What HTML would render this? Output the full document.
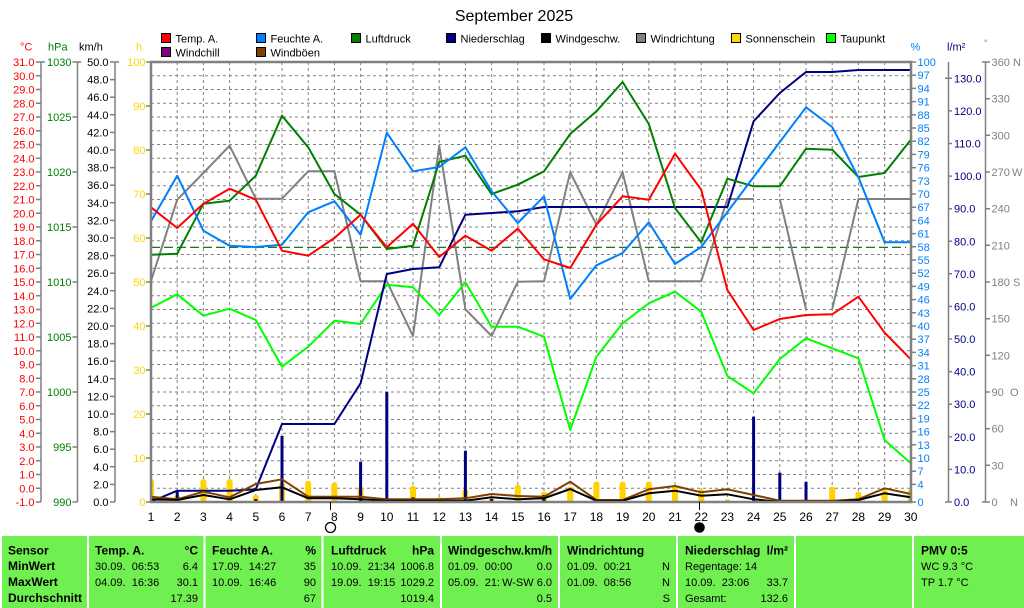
<!DOCTYPE html>
<html><head><meta charset="utf-8">
<style>
html,body{margin:0;padding:0;background:#fff;width:1024px;height:608px;overflow:hidden}
svg{display:block}
text{font-family:"Liberation Sans",Arial,sans-serif;white-space:pre}
</style></head><body>
<svg width="1024" height="608" viewBox="0 0 1024 608" xmlns="http://www.w3.org/2000/svg" xml:space="preserve">
<defs><clipPath id="pc"><rect x="151" y="62" width="760" height="440"/></clipPath></defs>
<rect width="1024" height="608" fill="#fff"/>

<!-- Title -->
<text x="514" y="21" font-size="16" text-anchor="middle">September 2025</text>

<!-- Legend -->
<g stroke="#000" stroke-width="1">
<rect x="161.5" y="33.5" width="9" height="9" fill="#FF0000"/>
<rect x="256.5" y="33.5" width="9" height="9" fill="#0080FF"/>
<rect x="351.5" y="33.5" width="9" height="9" fill="#008000"/>
<rect x="446.5" y="33.5" width="9" height="9" fill="#000080"/>
<rect x="541.5" y="33.5" width="9" height="9" fill="#000000"/>
<rect x="636.5" y="33.5" width="9" height="9" fill="#808080"/>
<rect x="731.5" y="33.5" width="9" height="9" fill="#FFD700"/>
<rect x="826.5" y="33.5" width="9" height="9" fill="#00FF00"/>
<rect x="161.5" y="47.5" width="9" height="9" fill="#800080"/>
<rect x="256.5" y="47.5" width="9" height="9" fill="#804000"/>
</g>
<g font-size="11" fill="#000">
<text x="175.5" y="42.5">Temp. A.</text>
<text x="270.5" y="42.5">Feuchte A.</text>
<text x="365.5" y="42.5">Luftdruck</text>
<text x="460.5" y="42.5">Niederschlag</text>
<text x="555.5" y="42.5">Windgeschw.</text>
<text x="650.5" y="42.5">Windrichtung</text>
<text x="745.5" y="42.5">Sonnenschein</text>
<text x="840.5" y="42.5">Taupunkt</text>
<text x="175.5" y="56.5">Windchill</text>
<text x="270.5" y="56.5">Windböen</text>
</g>

<!-- Axis headers -->
<g font-size="11">
<text x="20" y="50.5" fill="#FF0000">°C</text>
<text x="48" y="50.5" fill="#008000">hPa</text>
<text x="79" y="50.5" fill="#000">km/h</text>
<text x="136" y="50.5" fill="#FFD700">h</text>
<text x="910.5" y="50.5" fill="#0080FF">%</text>
<text x="947" y="50.5" fill="#000080">l/m²</text>
<text x="984" y="46" fill="#808080" font-size="9">°</text>
</g>

<!-- Left axis lines & ticks -->
<g stroke="#808080" stroke-width="1.5" fill="none">
<path d="M41 62V502M77.5 62V502M115 62V502M948.5 62V502M985.5 62V502"/>
<path d="M36 62H45M36 75.75H41M36 89.5H41M36 103.25H41M36 117H41M36 130.75H41M36 144.5H41M36 158.25H41M36 172H41M36 185.75H41M36 199.5H41M36 213.25H41M36 227H41M36 240.75H41M36 254.5H41M36 268.25H41M36 282H41M36 295.75H41M36 309.5H41M36 323.25H41M36 337H41M36 350.75H41M36 364.5H41M36 378.25H41M36 392H41M36 405.75H41M36 419.5H41M36 433.25H41M36 447H41M36 460.75H41M36 474.5H41M36 488.25H41M36 502H41"/>
<path d="M72.5 62H81M72.5 117H77.5M72.5 172H77.5M72.5 227H77.5M72.5 282H77.5M72.5 337H77.5M72.5 392H77.5M72.5 447H77.5M72.5 502H77.5"/>
<path d="M110 62H119M110 79.6H115M110 97.2H115M110 114.8H115M110 132.4H115M110 150H115M110 167.6H115M110 185.2H115M110 202.8H115M110 220.4H115M110 238H115M110 255.6H115M110 273.2H115M110 290.8H115M110 308.4H115M110 326H115M110 343.6H115M110 361.2H115M110 378.8H115M110 396.4H115M110 414H115M110 431.6H115M110 449.2H115M110 466.8H115M110 484.4H115M110 502H115"/>
<path d="M146 62H151M146 106H151M146 150H151M146 194H151M146 238H151M146 282H151M146 326H151M146 370H151M146 414H151M146 458H151M146 502H151"/>
<path d="M911 62H916M911 75.2H916M911 88.4H916M911 101.6H916M911 114.8H916M911 128H916M911 141.2H916M911 154.4H916M911 167.6H916M911 180.8H916M911 194H916M911 207.2H916M911 220.4H916M911 233.6H916M911 246.8H916M911 260H916M911 273.2H916M911 286.4H916M911 299.6H916M911 312.8H916M911 326H916M911 339.2H916M911 352.4H916M911 365.6H916M911 378.8H916M911 392H916M911 405.2H916M911 418.4H916M911 431.6H916M911 444.8H916M911 458H916M911 471.2H916M911 484.4H916M911 502H916"/>
<path d="M945 78.3H952M948.5 110.9H952M948.5 143.5H952M948.5 176.1H952M948.5 208.7H952M948.5 241.3H952M948.5 273.8H952M948.5 306.4H952M948.5 339H952M948.5 371.6H952M948.5 404.2H952M948.5 436.8H952M948.5 469.4H952M945 502H952"/>
<path d="M982 62H990M985.5 98.7H990M985.5 135.3H990M985.5 172H990M985.5 208.7H990M985.5 245.3H990M985.5 282H990M985.5 318.7H990M985.5 355.3H990M985.5 392H990M985.5 428.7H990M985.5 465.3H990M982 502H990"/>
</g>

<!-- Temp labels -->
<g font-size="11" fill="#FF0000" text-anchor="end">
<text x="34.5" y="66">31.0</text><text x="34.5" y="79.75">30.0</text><text x="34.5" y="93.5">29.0</text><text x="34.5" y="107.25">28.0</text><text x="34.5" y="121">27.0</text><text x="34.5" y="134.75">26.0</text><text x="34.5" y="148.5">25.0</text><text x="34.5" y="162.25">24.0</text><text x="34.5" y="176">23.0</text><text x="34.5" y="189.75">22.0</text><text x="34.5" y="203.5">21.0</text><text x="34.5" y="217.25">20.0</text><text x="34.5" y="231">19.0</text><text x="34.5" y="244.75">18.0</text><text x="34.5" y="258.5">17.0</text><text x="34.5" y="272.25">16.0</text><text x="34.5" y="286">15.0</text><text x="34.5" y="299.75">14.0</text><text x="34.5" y="313.5">13.0</text><text x="34.5" y="327.25">12.0</text><text x="34.5" y="341">11.0</text><text x="34.5" y="354.75">10.0</text><text x="34.5" y="368.5">9.0</text><text x="34.5" y="382.25">8.0</text><text x="34.5" y="396">7.0</text><text x="34.5" y="409.75">6.0</text><text x="34.5" y="423.5">5.0</text><text x="34.5" y="437.25">4.0</text><text x="34.5" y="451">3.0</text><text x="34.5" y="464.75">2.0</text><text x="34.5" y="478.5">1.0</text><text x="34.5" y="492.25">0.0</text><text x="34.5" y="506">-1.0</text>
</g>
<!-- hPa labels -->
<g font-size="11" fill="#008000" text-anchor="end">
<text x="71.5" y="66">1030</text><text x="71.5" y="121">1025</text><text x="71.5" y="176">1020</text><text x="71.5" y="231">1015</text><text x="71.5" y="286">1010</text><text x="71.5" y="341">1005</text><text x="71.5" y="396">1000</text><text x="71.5" y="451">995</text><text x="71.5" y="506">990</text>
</g>
<!-- km/h labels -->
<g font-size="11" fill="#000" text-anchor="end">
<text x="108.5" y="66">50.0</text><text x="108.5" y="83.6">48.0</text><text x="108.5" y="101.2">46.0</text><text x="108.5" y="118.8">44.0</text><text x="108.5" y="136.4">42.0</text><text x="108.5" y="154">40.0</text><text x="108.5" y="171.6">38.0</text><text x="108.5" y="189.2">36.0</text><text x="108.5" y="206.8">34.0</text><text x="108.5" y="224.4">32.0</text><text x="108.5" y="242">30.0</text><text x="108.5" y="259.6">28.0</text><text x="108.5" y="277.2">26.0</text><text x="108.5" y="294.8">24.0</text><text x="108.5" y="312.4">22.0</text><text x="108.5" y="330">20.0</text><text x="108.5" y="347.6">18.0</text><text x="108.5" y="365.2">16.0</text><text x="108.5" y="382.8">14.0</text><text x="108.5" y="400.4">12.0</text><text x="108.5" y="418">10.0</text><text x="108.5" y="435.6">8.0</text><text x="108.5" y="453.2">6.0</text><text x="108.5" y="470.8">4.0</text><text x="108.5" y="488.4">2.0</text><text x="108.5" y="506">0.0</text>
</g>
<!-- h labels -->
<g font-size="11" fill="#FFD700" text-anchor="end">
<text x="145.5" y="66">100</text><text x="145.5" y="110">90</text><text x="145.5" y="154">80</text><text x="145.5" y="198">70</text><text x="145.5" y="242">60</text><text x="145.5" y="286">50</text><text x="145.5" y="330">40</text><text x="145.5" y="374">30</text><text x="145.5" y="418">20</text><text x="145.5" y="462">10</text><text x="145.5" y="506">0</text>
</g>
<!-- % labels -->
<g font-size="11" fill="#0080FF">
<text x="917.5" y="66">100</text><text x="917.5" y="79.2">97</text><text x="917.5" y="92.4">94</text><text x="917.5" y="105.6">91</text><text x="917.5" y="118.8">88</text><text x="917.5" y="132">85</text><text x="917.5" y="145.2">82</text><text x="917.5" y="158.4">79</text><text x="917.5" y="171.6">76</text><text x="917.5" y="184.8">73</text><text x="917.5" y="198">70</text><text x="917.5" y="211.2">67</text><text x="917.5" y="224.4">64</text><text x="917.5" y="237.6">61</text><text x="917.5" y="250.8">58</text><text x="917.5" y="264">55</text><text x="917.5" y="277.2">52</text><text x="917.5" y="290.4">49</text><text x="917.5" y="303.6">46</text><text x="917.5" y="316.8">43</text><text x="917.5" y="330">40</text><text x="917.5" y="343.2">37</text><text x="917.5" y="356.4">34</text><text x="917.5" y="369.6">31</text><text x="917.5" y="382.8">28</text><text x="917.5" y="396">25</text><text x="917.5" y="409.2">22</text><text x="917.5" y="422.4">19</text><text x="917.5" y="435.6">16</text><text x="917.5" y="448.8">13</text><text x="917.5" y="462">10</text><text x="917.5" y="475.2">7</text><text x="917.5" y="488.4">4</text><text x="917.5" y="506">0</text>
</g>
<!-- l/m2 labels -->
<g font-size="11" fill="#000080">
<text x="954" y="82.3">130.0</text><text x="954" y="114.9">120.0</text><text x="954" y="147.5">110.0</text><text x="954" y="180.1">100.0</text><text x="954" y="212.7">90.0</text><text x="954" y="245.3">80.0</text><text x="954" y="277.8">70.0</text><text x="954" y="310.4">60.0</text><text x="954" y="343">50.0</text><text x="954" y="375.6">40.0</text><text x="954" y="408.2">30.0</text><text x="954" y="440.8">20.0</text><text x="954" y="473.4">10.0</text><text x="954" y="506">0.0</text>
</g>
<!-- degree labels -->
<g font-size="11" fill="#808080">
<text x="991.5" y="66">360</text><text x="1013" y="66">N</text>
<text x="991.5" y="102.7">330</text>
<text x="991.5" y="139.3">300</text>
<text x="991.5" y="176">270</text><text x="1012" y="176">W</text>
<text x="991.5" y="212.7">240</text>
<text x="991.5" y="249.3">210</text>
<text x="991.5" y="286">180</text><text x="1013" y="286">S</text>
<text x="991.5" y="322.7">150</text>
<text x="991.5" y="359.3">120</text>
<text x="991.5" y="396">90</text><text x="1010" y="396">O</text>
<text x="991.5" y="432.7">60</text>
<text x="991.5" y="469.3">30</text>
<text x="991.5" y="506">0</text><text x="1010" y="506">N</text>
</g>

<!-- Gridlines -->
<path fill="none" stroke="#808080" stroke-width="1" stroke-dasharray="3,3" d="M151 75.75H911M151 89.5H911M151 103.25H911M151 117H911M151 130.75H911M151 144.5H911M151 158.25H911M151 172H911M151 185.75H911M151 199.5H911M151 213.25H911M151 227H911M151 240.75H911M151 254.5H911M151 268.25H911M151 282H911M151 295.75H911M151 309.5H911M151 323.25H911M151 337H911M151 350.75H911M151 364.5H911M151 378.25H911M151 392H911M151 405.75H911M151 419.5H911M151 433.25H911M151 447H911M151 460.75H911M151 474.5H911M151 488.25H911M177.2 62V502M203.4 62V502M229.6 62V502M255.8 62V502M282 62V502M308.2 62V502M334.4 62V502M360.6 62V502M386.8 62V502M413 62V502M439.2 62V502M465.4 62V502M491.6 62V502M517.8 62V502M544 62V502M570.2 62V502M596.4 62V502M622.6 62V502M648.8 62V502M675 62V502M701.2 62V502M727.4 62V502M753.6 62V502M779.8 62V502M806 62V502M832.2 62V502M858.4 62V502M884.6 62V502"/>

<!-- 1013 hPa reference -->
<path d="M151 247.3H906" stroke="#006400" stroke-width="1.2" stroke-dasharray="9,4" fill="none"/>

<g clip-path="url(#pc)">
<!-- Sunshine bars -->
<g fill="#FFD200">
<rect x="148" y="479.3" width="6" height="30" rx="2.5"/>
<rect x="174.2" y="495" width="6" height="15" rx="2.5"/>
<rect x="200.4" y="479.3" width="6" height="30" rx="2.5"/>
<rect x="226.6" y="479.3" width="6" height="30" rx="2.5"/>
<rect x="252.8" y="495" width="6" height="15" rx="2.5"/>
<rect x="279" y="482.7" width="6" height="30" rx="2.5"/>
<rect x="305.2" y="481" width="6" height="30" rx="2.5"/>
<rect x="331.4" y="482.7" width="6" height="30" rx="2.5"/>
<rect x="357.6" y="487.3" width="6" height="30" rx="2.5"/>
<rect x="410" y="486" width="6" height="30" rx="2.5"/>
<rect x="436.2" y="497.3" width="6" height="15" rx="2.5"/>
<rect x="462.4" y="489.3" width="6" height="30" rx="2.5"/>
<rect x="488.6" y="498.3" width="6" height="15" rx="2.5"/>
<rect x="514.8" y="485" width="6" height="30" rx="2.5"/>
<rect x="541" y="491.7" width="6" height="30" rx="2.5"/>
<rect x="567.2" y="486.7" width="6" height="30" rx="2.5"/>
<rect x="593.4" y="481.7" width="6" height="30" rx="2.5"/>
<rect x="619.6" y="481.7" width="6" height="30" rx="2.5"/>
<rect x="645.8" y="481.7" width="6" height="30" rx="2.5"/>
<rect x="672" y="485" width="6" height="30" rx="2.5"/>
<rect x="698.2" y="489.3" width="6" height="30" rx="2.5"/>
<rect x="724.4" y="499.3" width="6" height="15" rx="2.5"/>
<rect x="829.2" y="486.7" width="6" height="30" rx="2.5"/>
<rect x="855.4" y="491.7" width="6" height="30" rx="2.5"/>
<rect x="881.6" y="490" width="6" height="30" rx="2.5"/>
<rect x="907.8" y="489.3" width="6" height="30" rx="2.5"/>
</g>
<!-- Daily precipitation bars -->
<g fill="#000080">
<rect x="175.7" y="490.7" width="3" height="12"/>
<rect x="254.3" y="499" width="3" height="4"/>
<rect x="280.5" y="436" width="3" height="66"/>
<rect x="359.1" y="461.7" width="3" height="41"/>
<rect x="385.3" y="391.7" width="3" height="111"/>
<rect x="411.5" y="497.3" width="3" height="5"/>
<rect x="437.7" y="499" width="3" height="4"/>
<rect x="463.9" y="450.7" width="3" height="52"/>
<rect x="490.1" y="499" width="3" height="4"/>
<rect x="542.5" y="495" width="3" height="8"/>
<rect x="752.1" y="416.7" width="3" height="86"/>
<rect x="778.3" y="472.7" width="3" height="30"/>
<rect x="804.5" y="481.7" width="3" height="21"/>
<rect x="856.9" y="499" width="3" height="4"/>
</g>

<g fill="none" stroke-width="2" stroke-linejoin="round">
<!-- Windrichtung -->
<polyline stroke="#808080" points="151,281 177.2,199.7 203.4,173 229.6,145.7 255.8,198.7 282,198.7 308.2,171.3 334.4,171.3 360.6,281.3 386.8,281.3 413,336 439.2,145.7 465.4,309.3 491.6,336 517.8,281.7 544,281.3 570.2,172.3 596.4,224.7 622.6,172.3 648.8,281.3 675,281.3 701.2,281.3 727.4,199 753.6,199"/>
<polyline stroke="#808080" points="779.8,199 806,309"/>
<polyline stroke="#808080" points="832.2,309 858.4,199 884.6,199 910.8,199"/>
<!-- Taupunkt -->
<polyline stroke="#00FF00" points="151,307.7 177.2,294.3 203.4,315.7 229.6,308.7 255.8,320 282,366.7 308.2,346.7 334.4,320.7 360.6,324 386.8,284.7 413,287.3 439.2,315 465.4,282.3 491.6,326.7 517.8,326.7 544,336.7 570.2,430 596.4,356.7 622.6,323.3 648.8,303.3 675,291.7 701.2,311.7 727.4,376 753.6,393.3 779.8,359 806,338.3 832.2,348.3 858.4,358.3 884.6,440 910.8,463.3"/>
<!-- Niederschlag cumulative -->
<polyline stroke="#000080" points="151,501.7 177.2,490.7 203.4,490.7 229.6,490.7 255.8,489.3 282,424 308.2,424 334.4,424 360.6,383.3 386.8,274 413,269 439.2,267.3 465.4,214.7 491.6,213 517.8,211.3 544,207 570.2,207 596.4,207 622.6,207 648.8,207 675,207 701.2,207 727.4,207 753.6,121.3 779.8,93 806,72 832.2,72 858.4,70 884.6,70 910.8,70"/>
<!-- Luftdruck -->
<polyline stroke="#008000" points="151,254.7 177.2,253.7 203.4,203.7 229.6,200.7 255.8,175.7 282,115.7 308.2,147.3 334.4,194 360.6,214.7 386.8,249 413,245.7 439.2,162 465.4,155.7 491.6,194 517.8,184.7 544,171.3 570.2,134 596.4,111.3 622.6,82 648.8,124 675,208 701.2,242.3 727.4,178.7 753.6,186.3 779.8,186.3 806,148.7 832.2,149.7 858.4,177 884.6,173 910.8,139.7"/>
<!-- Feuchte -->
<polyline stroke="#0080FF" points="151,221.3 177.2,175.7 203.4,230.7 229.6,245.7 255.8,247 282,244.7 308.2,212.3 334.4,201.3 360.6,234.7 386.8,132.7 413,171.3 439.2,167 465.4,147.3 491.6,191.3 517.8,223 544,196.3 570.2,299 596.4,265.3 622.6,253 648.8,222.3 675,264 701.2,247 727.4,212 753.6,177 779.8,142 806,107.3 832.2,127 858.4,177.3 884.6,242.3 910.8,242.3"/>
<!-- Temp -->
<polyline stroke="#FF0000" points="151,207.3 177.2,228 203.4,203.7 229.6,188.7 255.8,199.7 282,250.7 308.2,255.7 334.4,238 360.6,214.7 386.8,247.3 413,223.7 439.2,257 465.4,235.7 491.6,250.7 517.8,228.7 544,259.3 570.2,268 596.4,224.7 622.6,196.3 648.8,199.7 675,153.7 701.2,189.7 727.4,290 753.6,330 779.8,319 806,315 832.2,314.3 858.4,296.7 884.6,332.7 910.8,359.3"/>
<!-- Windböen -->
<polyline stroke="#804000" points="151,496.7 177.2,499.3 203.4,491.7 229.6,497.3 255.8,484 282,479.3 308.2,496.7 334.4,496.7 360.6,496.7 386.8,499.3 413,499.3 439.2,499.3 465.4,498.3 491.6,494 517.8,496 544,496.7 570.2,481.7 596.4,500 622.6,500 648.8,489.3 675,486 701.2,492.3 727.4,489.3 753.6,495 779.8,500.7 806,500.7 832.2,500.7 858.4,499.3 884.6,488.3 910.8,494"/>
<!-- Windgeschw -->
<polyline stroke="#000000" points="151,499.3 177.2,500 203.4,495 229.6,499.3 255.8,490 282,487.3 308.2,498.3 334.4,498.3 360.6,499.3 386.8,500.7 413,500.7 439.2,500.7 465.4,500.7 491.6,497.3 517.8,499.3 544,498.3 570.2,489 596.4,500.7 622.6,500.7 648.8,493.3 675,490.7 701.2,495.7 727.4,494.3 753.6,499.3 779.8,501.7 806,501.7 832.2,501.7 858.4,500 884.6,493.3 910.8,497.3"/>
</g>
</g>

<!-- Plot frame -->
<rect x="151" y="62" width="760" height="440" fill="none" stroke="#808080" stroke-width="2.5"/>

<!-- X axis labels -->
<g font-size="12" fill="#000" text-anchor="middle">
<text x="151" y="521">1</text><text x="177.2" y="521">2</text><text x="203.4" y="521">3</text><text x="229.6" y="521">4</text><text x="255.8" y="521">5</text><text x="282" y="521">6</text><text x="308.2" y="521">7</text><text x="334.4" y="521">8</text><text x="360.6" y="521">9</text><text x="386.8" y="521">10</text><text x="413" y="521">11</text><text x="439.2" y="521">12</text><text x="465.4" y="521">13</text><text x="491.6" y="521">14</text><text x="517.8" y="521">15</text><text x="544" y="521">16</text><text x="570.2" y="521">17</text><text x="596.4" y="521">18</text><text x="622.6" y="521">19</text><text x="648.8" y="521">20</text><text x="675" y="521">21</text><text x="701.2" y="521">22</text><text x="727.4" y="521">23</text><text x="753.6" y="521">24</text><text x="779.8" y="521">25</text><text x="806" y="521">26</text><text x="832.2" y="521">27</text><text x="858.4" y="521">28</text><text x="884.6" y="521">29</text><text x="910.8" y="521">30</text>
</g>

<!-- Moon phases -->
<path d="M330.5 502V510M699.5 502V510" stroke="#000" stroke-width="1"/>
<circle cx="330.5" cy="527.5" r="5" fill="#fff" stroke="#000" stroke-width="1.3"/>
<circle cx="699.5" cy="527.5" r="5.3" fill="#000"/>

<!-- Summary table -->
<rect x="2" y="536" width="1022" height="72" fill="#70F050"/>
<g fill="#fff">
<rect x="87" y="536" width="2" height="72"/>
<rect x="203.5" y="536" width="2" height="72"/>
<rect x="321.5" y="536" width="2" height="72"/>
<rect x="440" y="536" width="2" height="72"/>
<rect x="558" y="536" width="2" height="72"/>
<rect x="676" y="536" width="2" height="72"/>
<rect x="794" y="536" width="2" height="72"/>
<rect x="912" y="536" width="2" height="72"/>
</g>
<g font-size="12" font-weight="bold" fill="#000">
<text x="8" y="554.5">Sensor</text>
<text x="8" y="570">MinWert</text>
<text x="8" y="586">MaxWert</text>
<text x="8" y="602">Durchschnitt</text>
<text x="95" y="554.5">Temp. A.</text>
<text x="198" y="554.5" text-anchor="end">°C</text>
<text x="212" y="554.5">Feuchte A.</text>
<text x="316" y="554.5" text-anchor="end">%</text>
<text x="331" y="554.5">Luftdruck</text>
<text x="434" y="554.5" text-anchor="end">hPa</text>
<text x="448" y="554.5">Windgeschw.km/h</text>
<text x="567" y="554.5">Windrichtung</text>
<text x="685" y="554.5">Niederschlag</text>
<text x="788" y="554.5" text-anchor="end">l/m²</text>
<text x="921" y="554.5">PMV 0:5</text>
</g>
<g font-size="11" fill="#000">
<text x="95" y="570">30.09.  06:53</text><text x="198" y="570" text-anchor="end">6.4</text>
<text x="95" y="586">04.09.  16:36</text><text x="198" y="586" text-anchor="end">30.1</text>
<text x="198" y="602" text-anchor="end">17.39</text>
<text x="212" y="570">17.09.  14:27</text><text x="316" y="570" text-anchor="end">35</text>
<text x="212" y="586">10.09.  16:46</text><text x="316" y="586" text-anchor="end">90</text>
<text x="316" y="602" text-anchor="end">67</text>
<text x="331" y="570">10.09.  21:34</text><text x="434" y="570" text-anchor="end">1006.8</text>
<text x="331" y="586">19.09.  19:15</text><text x="434" y="586" text-anchor="end">1029.2</text>
<text x="434" y="602" text-anchor="end">1019.4</text>
<text x="448" y="570">01.09.  00:00</text><text x="552" y="570" text-anchor="end">0.0</text>
<text x="448" y="586">05.09.  21:</text><text x="552" y="586" text-anchor="end">W-SW 6.0</text>
<text x="552" y="602" text-anchor="end">0.5</text>
<text x="567" y="570">01.09.  00:21</text><text x="670" y="570" text-anchor="end">N</text>
<text x="567" y="586">01.09.  08:56</text><text x="670" y="586" text-anchor="end">N</text>
<text x="670" y="602" text-anchor="end">S</text>
<text x="685" y="570">Regentage: 14</text>
<text x="685" y="586">10.09.  23:06</text><text x="788" y="586" text-anchor="end">33.7</text>
<text x="685" y="602">Gesamt:</text><text x="788" y="602" text-anchor="end">132.6</text>
<text x="921" y="570">WC 9.3 °C</text>
<text x="921" y="586">TP 1.7 °C</text>
</g>
</svg>
</body></html>
